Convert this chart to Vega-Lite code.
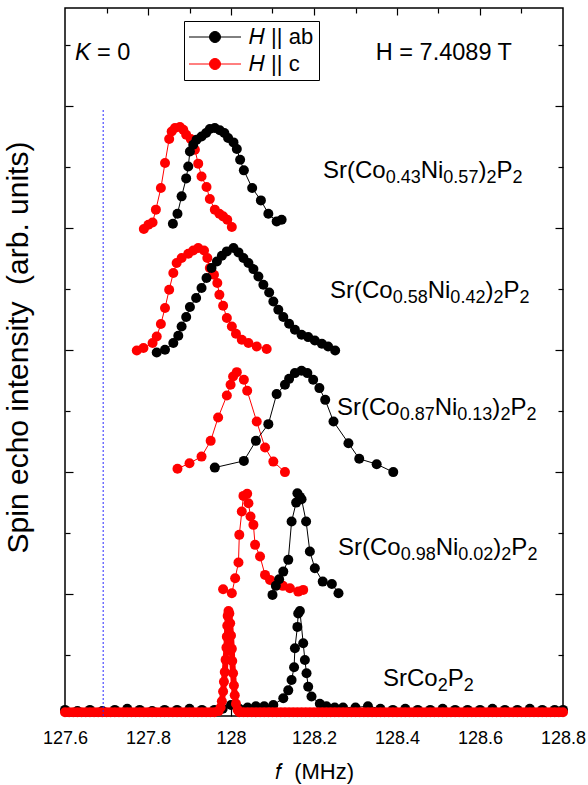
{
  "$schema": "https://vega.github.io/schema/vega-lite/v6.json",
  "width": 498,
  "height": 708,
  "autosize": {"type": "none"},
  "padding": {"left": 65, "top": 8, "right": 25, "bottom": 69},
  "background": "white",
  "config": {
    "font": "Liberation Sans",
    "view": {"stroke": "black", "strokeWidth": 1.5},
    "axis": {"domain": false, "grid": false, "tickColor": "black", "tickWidth": 1.2, "labelColor": "black", "titleColor": "black", "labelFont": "Liberation Sans", "titleFont": "Liberation Sans"},
    "legend": {"orient": "none", "legendX": 119, "legendY": 13, "title": null, "strokeColor": "black", "fillColor": "white", "padding": 5, "rowPadding": 5,
      "labelFontSize": 22, "labelFont": "Liberation Sans", "labelColor": "black", "labelOffset": 23,
      "symbolType": "M-2.6,0L2.6,0M-0.55,0A0.55,0.55,0,1,1,0.55,0A0.55,0.55,0,1,1,-0.55,0Z",
      "symbolSize": 400, "symbolOffset": 15, "symbolStrokeWidth": 1}
  },
  "datasets": {
    "spectra": [
      {"sample": "0.43", "H": "c", "f": 127.790, "I": 3.989},
      {"sample": "0.43", "H": "c", "f": 127.801, "I": 4.025},
      {"sample": "0.43", "H": "c", "f": 127.811, "I": 4.043},
      {"sample": "0.43", "H": "c", "f": 127.819, "I": 4.148},
      {"sample": "0.43", "H": "c", "f": 127.831, "I": 4.325},
      {"sample": "0.43", "H": "c", "f": 127.841, "I": 4.530},
      {"sample": "0.43", "H": "c", "f": 127.851, "I": 4.727},
      {"sample": "0.43", "H": "c", "f": 127.857, "I": 4.789},
      {"sample": "0.43", "H": "c", "f": 127.865, "I": 4.817},
      {"sample": "0.43", "H": "c", "f": 127.877, "I": 4.825},
      {"sample": "0.43", "H": "c", "f": 127.885, "I": 4.803},
      {"sample": "0.43", "H": "c", "f": 127.892, "I": 4.762},
      {"sample": "0.43", "H": "c", "f": 127.903, "I": 4.727},
      {"sample": "0.43", "H": "c", "f": 127.913, "I": 4.639},
      {"sample": "0.43", "H": "c", "f": 127.921, "I": 4.525},
      {"sample": "0.43", "H": "c", "f": 127.929, "I": 4.420},
      {"sample": "0.43", "H": "c", "f": 127.941, "I": 4.334},
      {"sample": "0.43", "H": "c", "f": 127.949, "I": 4.235},
      {"sample": "0.43", "H": "c", "f": 127.961, "I": 4.148},
      {"sample": "0.43", "H": "c", "f": 127.972, "I": 4.115},
      {"sample": "0.43", "H": "c", "f": 127.981, "I": 4.093},
      {"sample": "0.43", "H": "c", "f": 127.991, "I": 4.066},
      {"sample": "0.43", "H": "c", "f": 128.002, "I": 4.006},
      {"sample": "0.43", "H": "ab", "f": 127.860, "I": 4.033},
      {"sample": "0.43", "H": "ab", "f": 127.871, "I": 4.115},
      {"sample": "0.43", "H": "ab", "f": 127.881, "I": 4.257},
      {"sample": "0.43", "H": "ab", "f": 127.892, "I": 4.404},
      {"sample": "0.43", "H": "ab", "f": 127.897, "I": 4.502},
      {"sample": "0.43", "H": "ab", "f": 127.901, "I": 4.625},
      {"sample": "0.43", "H": "ab", "f": 127.909, "I": 4.680},
      {"sample": "0.43", "H": "ab", "f": 127.917, "I": 4.721},
      {"sample": "0.43", "H": "ab", "f": 127.929, "I": 4.748},
      {"sample": "0.43", "H": "ab", "f": 127.940, "I": 4.776},
      {"sample": "0.43", "H": "ab", "f": 127.949, "I": 4.809},
      {"sample": "0.43", "H": "ab", "f": 127.961, "I": 4.817},
      {"sample": "0.43", "H": "ab", "f": 127.973, "I": 4.798},
      {"sample": "0.43", "H": "ab", "f": 127.984, "I": 4.776},
      {"sample": "0.43", "H": "ab", "f": 127.993, "I": 4.735},
      {"sample": "0.43", "H": "ab", "f": 128.006, "I": 4.699},
      {"sample": "0.43", "H": "ab", "f": 128.014, "I": 4.645},
      {"sample": "0.43", "H": "ab", "f": 128.022, "I": 4.557},
      {"sample": "0.43", "H": "ab", "f": 128.031, "I": 4.470},
      {"sample": "0.43", "H": "ab", "f": 128.051, "I": 4.325},
      {"sample": "0.43", "H": "ab", "f": 128.072, "I": 4.224},
      {"sample": "0.43", "H": "ab", "f": 128.090, "I": 4.115},
      {"sample": "0.43", "H": "ab", "f": 128.110, "I": 4.052},
      {"sample": "0.43", "H": "ab", "f": 128.122, "I": 4.066},
      {"sample": "0.58", "H": "c", "f": 127.773, "I": 2.994},
      {"sample": "0.58", "H": "c", "f": 127.789, "I": 3.014},
      {"sample": "0.58", "H": "c", "f": 127.811, "I": 3.055},
      {"sample": "0.58", "H": "c", "f": 127.821, "I": 3.109},
      {"sample": "0.58", "H": "c", "f": 127.831, "I": 3.211},
      {"sample": "0.58", "H": "c", "f": 127.841, "I": 3.342},
      {"sample": "0.58", "H": "c", "f": 127.851, "I": 3.492},
      {"sample": "0.58", "H": "c", "f": 127.861, "I": 3.629},
      {"sample": "0.58", "H": "c", "f": 127.869, "I": 3.711},
      {"sample": "0.58", "H": "c", "f": 127.881, "I": 3.752},
      {"sample": "0.58", "H": "c", "f": 127.897, "I": 3.787},
      {"sample": "0.58", "H": "c", "f": 127.909, "I": 3.814},
      {"sample": "0.58", "H": "c", "f": 127.921, "I": 3.834},
      {"sample": "0.58", "H": "c", "f": 127.935, "I": 3.814},
      {"sample": "0.58", "H": "c", "f": 127.943, "I": 3.752},
      {"sample": "0.58", "H": "c", "f": 127.949, "I": 3.670},
      {"sample": "0.58", "H": "c", "f": 127.959, "I": 3.615},
      {"sample": "0.58", "H": "c", "f": 127.967, "I": 3.547},
      {"sample": "0.58", "H": "c", "f": 127.972, "I": 3.451},
      {"sample": "0.58", "H": "c", "f": 127.981, "I": 3.361},
      {"sample": "0.58", "H": "c", "f": 127.990, "I": 3.260},
      {"sample": "0.58", "H": "c", "f": 128.002, "I": 3.191},
      {"sample": "0.58", "H": "c", "f": 128.012, "I": 3.131},
      {"sample": "0.58", "H": "c", "f": 128.026, "I": 3.082},
      {"sample": "0.58", "H": "c", "f": 128.042, "I": 3.055},
      {"sample": "0.58", "H": "c", "f": 128.062, "I": 3.027},
      {"sample": "0.58", "H": "c", "f": 128.086, "I": 3.006},
      {"sample": "0.58", "H": "ab", "f": 127.821, "I": 2.978},
      {"sample": "0.58", "H": "ab", "f": 127.841, "I": 3.000},
      {"sample": "0.58", "H": "ab", "f": 127.861, "I": 3.055},
      {"sample": "0.58", "H": "ab", "f": 127.873, "I": 3.115},
      {"sample": "0.58", "H": "ab", "f": 127.881, "I": 3.191},
      {"sample": "0.58", "H": "ab", "f": 127.892, "I": 3.268},
      {"sample": "0.58", "H": "ab", "f": 127.901, "I": 3.350},
      {"sample": "0.58", "H": "ab", "f": 127.916, "I": 3.424},
      {"sample": "0.58", "H": "ab", "f": 127.929, "I": 3.506},
      {"sample": "0.58", "H": "ab", "f": 127.941, "I": 3.588},
      {"sample": "0.58", "H": "ab", "f": 127.953, "I": 3.670},
      {"sample": "0.58", "H": "ab", "f": 127.966, "I": 3.724},
      {"sample": "0.58", "H": "ab", "f": 127.978, "I": 3.770},
      {"sample": "0.58", "H": "ab", "f": 127.990, "I": 3.806},
      {"sample": "0.58", "H": "ab", "f": 128.006, "I": 3.834},
      {"sample": "0.58", "H": "ab", "f": 128.018, "I": 3.798},
      {"sample": "0.58", "H": "ab", "f": 128.030, "I": 3.752},
      {"sample": "0.58", "H": "ab", "f": 128.042, "I": 3.711},
      {"sample": "0.58", "H": "ab", "f": 128.054, "I": 3.661},
      {"sample": "0.58", "H": "ab", "f": 128.066, "I": 3.601},
      {"sample": "0.58", "H": "ab", "f": 128.078, "I": 3.533},
      {"sample": "0.58", "H": "ab", "f": 128.092, "I": 3.470},
      {"sample": "0.58", "H": "ab", "f": 128.102, "I": 3.396},
      {"sample": "0.58", "H": "ab", "f": 128.114, "I": 3.328},
      {"sample": "0.58", "H": "ab", "f": 128.126, "I": 3.268},
      {"sample": "0.58", "H": "ab", "f": 128.140, "I": 3.213},
      {"sample": "0.58", "H": "ab", "f": 128.154, "I": 3.164},
      {"sample": "0.58", "H": "ab", "f": 128.170, "I": 3.123},
      {"sample": "0.58", "H": "ab", "f": 128.186, "I": 3.104},
      {"sample": "0.58", "H": "ab", "f": 128.202, "I": 3.076},
      {"sample": "0.58", "H": "ab", "f": 128.219, "I": 3.049},
      {"sample": "0.58", "H": "ab", "f": 128.234, "I": 3.027},
      {"sample": "0.58", "H": "ab", "f": 128.251, "I": 2.994},
      {"sample": "0.87", "H": "c", "f": 127.871, "I": 2.025},
      {"sample": "0.87", "H": "c", "f": 127.900, "I": 2.071},
      {"sample": "0.87", "H": "c", "f": 127.929, "I": 2.125},
      {"sample": "0.87", "H": "c", "f": 127.951, "I": 2.254},
      {"sample": "0.87", "H": "c", "f": 127.969, "I": 2.445},
      {"sample": "0.87", "H": "c", "f": 127.990, "I": 2.625},
      {"sample": "0.87", "H": "c", "f": 127.999, "I": 2.713},
      {"sample": "0.87", "H": "c", "f": 128.005, "I": 2.781},
      {"sample": "0.87", "H": "c", "f": 128.014, "I": 2.817},
      {"sample": "0.87", "H": "c", "f": 128.031, "I": 2.754},
      {"sample": "0.87", "H": "c", "f": 128.039, "I": 2.664},
      {"sample": "0.87", "H": "c", "f": 128.062, "I": 2.412},
      {"sample": "0.87", "H": "c", "f": 128.082, "I": 2.199},
      {"sample": "0.87", "H": "c", "f": 128.102, "I": 2.084},
      {"sample": "0.87", "H": "c", "f": 128.130, "I": 1.998},
      {"sample": "0.87", "H": "ab", "f": 127.961, "I": 2.035},
      {"sample": "0.87", "H": "ab", "f": 128.031, "I": 2.090},
      {"sample": "0.87", "H": "ab", "f": 128.060, "I": 2.254},
      {"sample": "0.87", "H": "ab", "f": 128.090, "I": 2.391},
      {"sample": "0.87", "H": "ab", "f": 128.110, "I": 2.637},
      {"sample": "0.87", "H": "ab", "f": 128.130, "I": 2.713},
      {"sample": "0.87", "H": "ab", "f": 128.140, "I": 2.762},
      {"sample": "0.87", "H": "ab", "f": 128.154, "I": 2.809},
      {"sample": "0.87", "H": "ab", "f": 128.170, "I": 2.828},
      {"sample": "0.87", "H": "ab", "f": 128.184, "I": 2.809},
      {"sample": "0.87", "H": "ab", "f": 128.198, "I": 2.754},
      {"sample": "0.87", "H": "ab", "f": 128.213, "I": 2.686},
      {"sample": "0.87", "H": "ab", "f": 128.227, "I": 2.590},
      {"sample": "0.87", "H": "ab", "f": 128.247, "I": 2.412},
      {"sample": "0.87", "H": "ab", "f": 128.283, "I": 2.235},
      {"sample": "0.87", "H": "ab", "f": 128.309, "I": 2.107},
      {"sample": "0.87", "H": "ab", "f": 128.351, "I": 2.063},
      {"sample": "0.87", "H": "ab", "f": 128.391, "I": 1.998},
      {"sample": "0.98", "H": "c", "f": 127.981, "I": 1.039},
      {"sample": "0.98", "H": "c", "f": 128.002, "I": 1.006},
      {"sample": "0.98", "H": "c", "f": 128.010, "I": 1.129},
      {"sample": "0.98", "H": "c", "f": 128.018, "I": 1.257},
      {"sample": "0.98", "H": "c", "f": 128.020, "I": 1.484},
      {"sample": "0.98", "H": "c", "f": 128.026, "I": 1.675},
      {"sample": "0.98", "H": "c", "f": 128.030, "I": 1.803},
      {"sample": "0.98", "H": "c", "f": 128.039, "I": 1.820},
      {"sample": "0.98", "H": "c", "f": 128.042, "I": 1.743},
      {"sample": "0.98", "H": "c", "f": 128.047, "I": 1.634},
      {"sample": "0.98", "H": "c", "f": 128.054, "I": 1.566},
      {"sample": "0.98", "H": "c", "f": 128.058, "I": 1.402},
      {"sample": "0.98", "H": "c", "f": 128.070, "I": 1.306},
      {"sample": "0.98", "H": "c", "f": 128.082, "I": 1.156},
      {"sample": "0.98", "H": "c", "f": 128.094, "I": 1.115},
      {"sample": "0.98", "H": "c", "f": 128.110, "I": 1.088},
      {"sample": "0.98", "H": "c", "f": 128.125, "I": 1.066},
      {"sample": "0.98", "H": "c", "f": 128.142, "I": 1.047},
      {"sample": "0.98", "H": "c", "f": 128.162, "I": 1.019},
      {"sample": "0.98", "H": "c", "f": 128.174, "I": 1.033},
      {"sample": "0.98", "H": "ab", "f": 128.100, "I": 0.992},
      {"sample": "0.98", "H": "ab", "f": 128.108, "I": 1.066},
      {"sample": "0.98", "H": "ab", "f": 128.116, "I": 1.120},
      {"sample": "0.98", "H": "ab", "f": 128.126, "I": 1.183},
      {"sample": "0.98", "H": "ab", "f": 128.138, "I": 1.279},
      {"sample": "0.98", "H": "ab", "f": 128.146, "I": 1.593},
      {"sample": "0.98", "H": "ab", "f": 128.157, "I": 1.748},
      {"sample": "0.98", "H": "ab", "f": 128.160, "I": 1.825},
      {"sample": "0.98", "H": "ab", "f": 128.166, "I": 1.795},
      {"sample": "0.98", "H": "ab", "f": 128.170, "I": 1.776},
      {"sample": "0.98", "H": "ab", "f": 128.181, "I": 1.593},
      {"sample": "0.98", "H": "ab", "f": 128.190, "I": 1.347},
      {"sample": "0.98", "H": "ab", "f": 128.202, "I": 1.211},
      {"sample": "0.98", "H": "ab", "f": 128.221, "I": 1.101},
      {"sample": "0.98", "H": "ab", "f": 128.243, "I": 1.082},
      {"sample": "0.98", "H": "ab", "f": 128.259, "I": 1.006},
      {"sample": "0", "H": "ab", "f": 127.60, "I": 0.05},
      {"sample": "0", "H": "ab", "f": 127.63, "I": 0.04},
      {"sample": "0", "H": "ab", "f": 127.66, "I": 0.05},
      {"sample": "0", "H": "ab", "f": 127.69, "I": 0.04},
      {"sample": "0", "H": "ab", "f": 127.72, "I": 0.05},
      {"sample": "0", "H": "ab", "f": 127.75, "I": 0.06},
      {"sample": "0", "H": "ab", "f": 127.78, "I": 0.05},
      {"sample": "0", "H": "ab", "f": 127.81, "I": 0.04},
      {"sample": "0", "H": "ab", "f": 127.84, "I": 0.05},
      {"sample": "0", "H": "ab", "f": 127.87, "I": 0.05},
      {"sample": "0", "H": "ab", "f": 127.90, "I": 0.06},
      {"sample": "0", "H": "ab", "f": 127.93, "I": 0.05},
      {"sample": "0", "H": "ab", "f": 127.96, "I": 0.05},
      {"sample": "0", "H": "ab", "f": 127.98, "I": 0.06},
      {"sample": "0", "H": "ab", "f": 128.00, "I": 0.09},
      {"sample": "0", "H": "ab", "f": 128.02, "I": 0.06},
      {"sample": "0", "H": "ab", "f": 128.04, "I": 0.07},
      {"sample": "0", "H": "ab", "f": 128.06, "I": 0.08},
      {"sample": "0", "H": "ab", "f": 128.08, "I": 0.08},
      {"sample": "0", "H": "ab", "f": 128.102, "I": 0.09},
      {"sample": "0", "H": "ab", "f": 128.126, "I": 0.145},
      {"sample": "0", "H": "ab", "f": 128.138, "I": 0.21},
      {"sample": "0", "H": "ab", "f": 128.146, "I": 0.295},
      {"sample": "0", "H": "ab", "f": 128.152, "I": 0.40},
      {"sample": "0", "H": "ab", "f": 128.154, "I": 0.555},
      {"sample": "0", "H": "ab", "f": 128.160, "I": 0.73},
      {"sample": "0", "H": "ab", "f": 128.162, "I": 0.84},
      {"sample": "0", "H": "ab", "f": 128.166, "I": 0.86},
      {"sample": "0", "H": "ab", "f": 128.174, "I": 0.596},
      {"sample": "0", "H": "ab", "f": 128.178, "I": 0.459},
      {"sample": "0", "H": "ab", "f": 128.182, "I": 0.35},
      {"sample": "0", "H": "ab", "f": 128.186, "I": 0.24},
      {"sample": "0", "H": "ab", "f": 128.194, "I": 0.16},
      {"sample": "0", "H": "ab", "f": 128.214, "I": 0.10},
      {"sample": "0", "H": "ab", "f": 128.23, "I": 0.08},
      {"sample": "0", "H": "ab", "f": 128.25, "I": 0.07},
      {"sample": "0", "H": "ab", "f": 128.27, "I": 0.07},
      {"sample": "0", "H": "ab", "f": 128.30, "I": 0.07},
      {"sample": "0", "H": "ab", "f": 128.33, "I": 0.08},
      {"sample": "0", "H": "ab", "f": 128.36, "I": 0.06},
      {"sample": "0", "H": "ab", "f": 128.39, "I": 0.05},
      {"sample": "0", "H": "ab", "f": 128.42, "I": 0.06},
      {"sample": "0", "H": "ab", "f": 128.45, "I": 0.05},
      {"sample": "0", "H": "ab", "f": 128.48, "I": 0.05},
      {"sample": "0", "H": "ab", "f": 128.51, "I": 0.06},
      {"sample": "0", "H": "ab", "f": 128.54, "I": 0.05},
      {"sample": "0", "H": "ab", "f": 128.57, "I": 0.05},
      {"sample": "0", "H": "ab", "f": 128.60, "I": 0.05},
      {"sample": "0", "H": "ab", "f": 128.63, "I": 0.06},
      {"sample": "0", "H": "ab", "f": 128.66, "I": 0.05},
      {"sample": "0", "H": "ab", "f": 128.69, "I": 0.05},
      {"sample": "0", "H": "ab", "f": 128.72, "I": 0.06},
      {"sample": "0", "H": "ab", "f": 128.75, "I": 0.05},
      {"sample": "0", "H": "ab", "f": 128.78, "I": 0.05},
      {"sample": "0", "H": "ab", "f": 128.80, "I": 0.05}
    ],
    "bottomRed": [
      {"f": 127.60, "I": 0.03}, {"f": 127.61, "I": 0.03}, {"f": 127.62, "I": 0.03}, {"f": 127.63, "I": 0.03}, {"f": 127.64, "I": 0.03},
      {"f": 127.65, "I": 0.03}, {"f": 127.66, "I": 0.03}, {"f": 127.67, "I": 0.03}, {"f": 127.68, "I": 0.03}, {"f": 127.69, "I": 0.03},
      {"f": 127.70, "I": 0.03}, {"f": 127.71, "I": 0.03}, {"f": 127.72, "I": 0.03}, {"f": 127.73, "I": 0.03}, {"f": 127.74, "I": 0.03},
      {"f": 127.75, "I": 0.03}, {"f": 127.76, "I": 0.03}, {"f": 127.77, "I": 0.03}, {"f": 127.78, "I": 0.03}, {"f": 127.79, "I": 0.03},
      {"f": 127.80, "I": 0.03}, {"f": 127.81, "I": 0.03}, {"f": 127.82, "I": 0.03}, {"f": 127.83, "I": 0.03}, {"f": 127.84, "I": 0.03},
      {"f": 127.85, "I": 0.03}, {"f": 127.86, "I": 0.03}, {"f": 127.87, "I": 0.03}, {"f": 127.88, "I": 0.03}, {"f": 127.89, "I": 0.03},
      {"f": 127.90, "I": 0.03}, {"f": 127.91, "I": 0.03}, {"f": 127.92, "I": 0.03}, {"f": 127.93, "I": 0.03}, {"f": 127.94, "I": 0.03},
      {"f": 127.95, "I": 0.03}, {"f": 127.960, "I": 0.03}, {"f": 127.970, "I": 0.04}, {"f": 127.975, "I": 0.07}, {"f": 127.978, "I": 0.12},
      {"f": 127.981, "I": 0.20}, {"f": 127.983, "I": 0.28}, {"f": 127.985, "I": 0.36}, {"f": 127.987, "I": 0.46}, {"f": 127.989, "I": 0.56},
      {"f": 127.990, "I": 0.65}, {"f": 127.991, "I": 0.74}, {"f": 127.992, "I": 0.82}, {"f": 127.994, "I": 0.86}, {"f": 127.996, "I": 0.84},
      {"f": 127.998, "I": 0.76}, {"f": 128.000, "I": 0.66}, {"f": 128.002, "I": 0.55}, {"f": 128.003, "I": 0.45}, {"f": 128.005, "I": 0.35},
      {"f": 128.007, "I": 0.25}, {"f": 128.009, "I": 0.17}, {"f": 128.012, "I": 0.10}, {"f": 128.016, "I": 0.05}, {"f": 128.020, "I": 0.03},
      {"f": 128.03, "I": 0.03}, {"f": 128.04, "I": 0.03}, {"f": 128.05, "I": 0.03}, {"f": 128.06, "I": 0.03}, {"f": 128.07, "I": 0.03},
      {"f": 128.08, "I": 0.03}, {"f": 128.09, "I": 0.03}, {"f": 128.10, "I": 0.03}, {"f": 128.11, "I": 0.03}, {"f": 128.12, "I": 0.03},
      {"f": 128.13, "I": 0.03}, {"f": 128.14, "I": 0.03}, {"f": 128.15, "I": 0.03}, {"f": 128.16, "I": 0.03}, {"f": 128.17, "I": 0.03},
      {"f": 128.18, "I": 0.03}, {"f": 128.19, "I": 0.03}, {"f": 128.20, "I": 0.03}, {"f": 128.21, "I": 0.03}, {"f": 128.22, "I": 0.03},
      {"f": 128.23, "I": 0.03}, {"f": 128.24, "I": 0.03}, {"f": 128.25, "I": 0.03}, {"f": 128.26, "I": 0.03}, {"f": 128.27, "I": 0.03},
      {"f": 128.28, "I": 0.03}, {"f": 128.29, "I": 0.03}, {"f": 128.30, "I": 0.03}, {"f": 128.31, "I": 0.03}, {"f": 128.32, "I": 0.03},
      {"f": 128.33, "I": 0.03}, {"f": 128.34, "I": 0.03}, {"f": 128.35, "I": 0.03}, {"f": 128.36, "I": 0.03}, {"f": 128.37, "I": 0.03},
      {"f": 128.38, "I": 0.03}, {"f": 128.39, "I": 0.03}, {"f": 128.40, "I": 0.03}, {"f": 128.41, "I": 0.03}, {"f": 128.42, "I": 0.03},
      {"f": 128.43, "I": 0.03}, {"f": 128.44, "I": 0.03}, {"f": 128.45, "I": 0.03}, {"f": 128.46, "I": 0.03}, {"f": 128.47, "I": 0.03},
      {"f": 128.48, "I": 0.03}, {"f": 128.49, "I": 0.03}, {"f": 128.50, "I": 0.03}, {"f": 128.51, "I": 0.03}, {"f": 128.52, "I": 0.03},
      {"f": 128.53, "I": 0.03}, {"f": 128.54, "I": 0.03}, {"f": 128.55, "I": 0.03}, {"f": 128.56, "I": 0.03}, {"f": 128.57, "I": 0.03},
      {"f": 128.58, "I": 0.03}, {"f": 128.59, "I": 0.03}, {"f": 128.60, "I": 0.03}, {"f": 128.61, "I": 0.03}, {"f": 128.62, "I": 0.03},
      {"f": 128.63, "I": 0.03}, {"f": 128.64, "I": 0.03}, {"f": 128.65, "I": 0.03}, {"f": 128.66, "I": 0.03}, {"f": 128.67, "I": 0.03},
      {"f": 128.68, "I": 0.03}, {"f": 128.69, "I": 0.03}, {"f": 128.70, "I": 0.03}, {"f": 128.71, "I": 0.03}, {"f": 128.72, "I": 0.03},
      {"f": 128.73, "I": 0.03}, {"f": 128.74, "I": 0.03}, {"f": 128.75, "I": 0.03}, {"f": 128.76, "I": 0.03}, {"f": 128.77, "I": 0.03},
      {"f": 128.78, "I": 0.03}, {"f": 128.79, "I": 0.03}, {"f": 128.80, "I": 0.03}
    ],
    "labelsMain": [
      {"f": 128.2217, "I": 4.408, "text": "Sr(Co"}, {"f": 128.4571, "I": 4.408, "text": "Ni"}, {"f": 128.5961, "I": 4.408, "text": ")"}, {"f": 128.6395, "I": 4.408, "text": "P"},
      {"f": 128.2386, "I": 3.425, "text": "Sr(Co"}, {"f": 128.4740, "I": 3.425, "text": "Ni"}, {"f": 128.6130, "I": 3.425, "text": ")"}, {"f": 128.6564, "I": 3.425, "text": "P"},
      {"f": 128.2554, "I": 2.466, "text": "Sr(Co"}, {"f": 128.4908, "I": 2.466, "text": "Ni"}, {"f": 128.6298, "I": 2.466, "text": ")"}, {"f": 128.6732, "I": 2.466, "text": "P"},
      {"f": 128.2578, "I": 1.318, "text": "Sr(Co"}, {"f": 128.4932, "I": 1.318, "text": "Ni"}, {"f": 128.6322, "I": 1.318, "text": ")"}, {"f": 128.6756, "I": 1.318, "text": "P"},
      {"f": 128.3663, "I": 0.244, "text": "SrCo"}, {"f": 128.5222, "I": 0.244, "text": "P"}
    ],
    "labelsSub": [
      {"f": 128.3727, "I": 4.408, "text": "0.43"}, {"f": 128.5117, "I": 4.408, "text": "0.57"}, {"f": 128.6154, "I": 4.408, "text": "2"}, {"f": 128.6781, "I": 4.408, "text": "2"},
      {"f": 128.3896, "I": 3.425, "text": "0.58"}, {"f": 128.5286, "I": 3.425, "text": "0.42"}, {"f": 128.6323, "I": 3.425, "text": "2"}, {"f": 128.6950, "I": 3.425, "text": "2"},
      {"f": 128.4064, "I": 2.466, "text": "0.87"}, {"f": 128.5454, "I": 2.466, "text": "0.13"}, {"f": 128.6491, "I": 2.466, "text": "2"}, {"f": 128.7118, "I": 2.466, "text": "2"},
      {"f": 128.4088, "I": 1.318, "text": "0.98"}, {"f": 128.5478, "I": 1.318, "text": "0.02"}, {"f": 128.6515, "I": 1.318, "text": "2"}, {"f": 128.7142, "I": 1.318, "text": "2"},
      {"f": 128.4980, "I": 0.244, "text": "2"}, {"f": 128.5607, "I": 0.244, "text": "2"}
    ],
    "notes": [
      {"f": 128.349, "I": 5.43, "text": "H = 7.4089 T"},
      {"f": 127.677, "I": 5.43, "text": "= 0"}
    ],
    "italic": [
      {"f": 127.624, "I": 5.43, "text": "K"}
    ],
    "ref": [
      {"f": 127.692, "I0": 0, "I1": 4.98}
    ]
  },
  "resolve": {"scale": {"x": "shared", "y": "shared", "color": "shared"}, "axis": {"x": "independent", "y": "independent"}},
  "layer": [
    {
      "data": {"name": "spectra"},
      "transform": [{"filter": "datum.H == 'c'"}],
      "mark": {"type": "line", "strokeWidth": 1},
      "encoding": {
        "x": {"field": "f", "type": "quantitative", "scale": {"domain": [127.6, 128.8], "nice": false, "zero": false},
          "axis": {"orient": "bottom", "values": [127.6, 127.8, 128, 128.2, 128.4, 128.6, 128.8], "format": "~g", "tickSize": -8, "labelPadding": 21, "labelFontSize": 18, "labelFlush": false, "labelOverlap": false, "title": "𝑓\u00a0 (MHz)", "titleFontSize": 22, "titleFontWeight": "normal", "titlePadding": 14}},
        "y": {"field": "I", "type": "quantitative", "scale": {"domain": [0, 5.8], "nice": false, "zero": false},
          "axis": {"orient": "left", "values": [1, 2, 3, 4, 5], "tickSize": -8, "labels": false, "title": "Spin echo intensity\u00a0 (arb. units)", "titleFontSize": 30, "titleFontWeight": "normal", "titlePadding": 31, "titleY": 339}},
        "detail": {"field": "sample"},
        "color": {"field": "H", "type": "nominal", "scale": {"domain": ["ab", "c"], "range": ["#000000", "#ff0000"]}, "legend": {"labelExpr": "'𝐻 || ' + datum.label"}}
      }
    },
    {
      "data": {"name": "spectra"},
      "transform": [{"filter": "datum.H == 'c'"}],
      "mark": {"type": "circle", "size": 100, "opacity": 1},
      "encoding": {
        "x": {"field": "f", "type": "quantitative", "axis": {"orient": "bottom", "values": [127.7, 127.9, 128.1, 128.3, 128.5, 128.7], "tickSize": -5, "labels": false, "title": null}},
        "y": {"field": "I", "type": "quantitative", "axis": {"orient": "left", "values": [0.5, 1.5, 2.5, 3.5, 4.5, 5.5], "tickSize": -5, "labels": false, "title": null}},
        "color": {"field": "H", "type": "nominal", "legend": {"labelExpr": "'𝐻 || ' + datum.label"}}
      }
    },
    {
      "data": {"name": "spectra"},
      "transform": [{"filter": "datum.H == 'ab'"}],
      "mark": {"type": "line", "strokeWidth": 1},
      "encoding": {
        "x": {"field": "f", "type": "quantitative", "axis": {"orient": "top", "values": [127.8, 128, 128.2, 128.4, 128.6], "tickSize": -7, "labels": false, "title": null}},
        "y": {"field": "I", "type": "quantitative", "axis": {"orient": "right", "values": [1, 2, 3, 4, 5], "tickSize": -8, "labels": false, "title": null}},
        "detail": {"field": "sample"},
        "color": {"field": "H", "type": "nominal", "legend": {"labelExpr": "'𝐻 || ' + datum.label"}}
      }
    },
    {
      "data": {"name": "spectra"},
      "transform": [{"filter": "datum.H == 'ab'"}],
      "mark": {"type": "circle", "size": 100, "opacity": 1},
      "encoding": {
        "x": {"field": "f", "type": "quantitative", "axis": {"orient": "top", "values": [127.7, 127.9, 128.1, 128.3, 128.5, 128.7], "tickSize": -5, "labels": false, "title": null}},
        "y": {"field": "I", "type": "quantitative", "axis": {"orient": "right", "values": [0.5, 1.5, 2.5, 3.5, 4.5, 5.5], "tickSize": -5, "labels": false, "title": null}},
        "color": {"field": "H", "type": "nominal", "legend": {"labelExpr": "'𝐻 || ' + datum.label"}}
      }
    },
    {
      "data": {"name": "bottomRed"},
      "mark": {"type": "line", "strokeWidth": 6, "color": "#ff0000"},
      "encoding": {
        "x": {"field": "f", "type": "quantitative", "axis": null},
        "y": {"field": "I", "type": "quantitative", "axis": null}
      }
    },
    {
      "data": {"name": "bottomRed"},
      "mark": {"type": "circle", "size": 100, "opacity": 1, "color": "#ff0000"},
      "encoding": {
        "x": {"field": "f", "type": "quantitative", "axis": null},
        "y": {"field": "I", "type": "quantitative", "axis": null}
      }
    },
    {
      "data": {"name": "ref"},
      "mark": {"type": "rule", "color": "#2a2aff", "strokeWidth": 1, "strokeDash": [2, 2]},
      "encoding": {
        "x": {"field": "f", "type": "quantitative", "axis": null},
        "y": {"field": "I0", "type": "quantitative", "axis": null},
        "y2": {"field": "I1"}
      }
    },
    {
      "data": {"name": "labelsMain"},
      "mark": {"type": "text", "align": "left", "baseline": "alphabetic", "fontSize": 24, "font": "Liberation Sans", "color": "black"},
      "encoding": {
        "x": {"field": "f", "type": "quantitative", "axis": null},
        "y": {"field": "I", "type": "quantitative", "axis": null},
        "text": {"field": "text"}
      }
    },
    {
      "data": {"name": "labelsSub"},
      "mark": {"type": "text", "align": "left", "baseline": "alphabetic", "fontSize": 18, "dy": 5, "font": "Liberation Sans", "color": "black"},
      "encoding": {
        "x": {"field": "f", "type": "quantitative", "axis": null},
        "y": {"field": "I", "type": "quantitative", "axis": null},
        "text": {"field": "text"}
      }
    },
    {
      "data": {"name": "notes"},
      "mark": {"type": "text", "align": "left", "baseline": "middle", "fontSize": 23.5, "font": "Liberation Sans", "color": "black"},
      "encoding": {
        "x": {"field": "f", "type": "quantitative", "axis": null},
        "y": {"field": "I", "type": "quantitative", "axis": null},
        "text": {"field": "text"}
      }
    },
    {
      "data": {"name": "italic"},
      "mark": {"type": "text", "align": "left", "baseline": "middle", "fontSize": 23.5, "font": "Liberation Sans", "fontStyle": "italic", "color": "black"},
      "encoding": {
        "x": {"field": "f", "type": "quantitative", "axis": null},
        "y": {"field": "I", "type": "quantitative", "axis": null},
        "text": {"field": "text"}
      }
    }
  ]
}
